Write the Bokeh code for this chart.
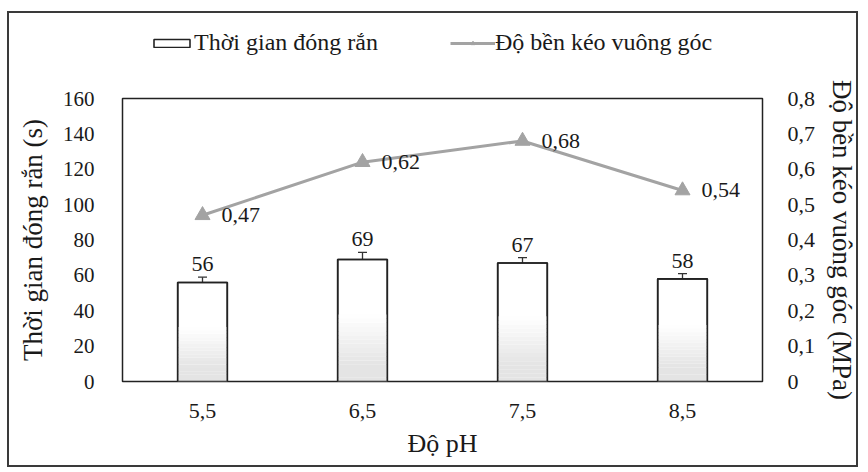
from bokeh.plotting import figure
from bokeh.layouts import column
from bokeh.models import (ColumnDataSource, Range1d, LinearAxis, FixedTicker,
                          CustomJSTickFormatter, Whisker, TeeHead, Legend,
                          LegendItem, FactorRange)
from bokeh.embed import file_html
from bokeh.resources import INLINE
from bokeh.core.properties import value

# ---- data ----
ph_labels = ["5,5", "6,5", "7,5", "8,5"]
setting_time = [56, 69, 67, 58]
setting_err = [3, 4, 3, 3]
tensile = [0.47, 0.62, 0.68, 0.54]
tensile_labels = ["0,47", "0,62", "0,68", "0,54"]
left_ticks = [0, 20, 40, 60, 80, 100, 120, 140, 160]
right_ticks = [0, 0.1, 0.2, 0.3, 0.4, 0.5, 0.6, 0.7, 0.8]
series_names = ["Thời gian đóng rắn", "Độ bền kéo vuông góc"]

FONT = "Liberation Serif"
TXT = "#1a1a1a"
GRAY = "#a3a3a3"
EDGE = "#222222"
FRAME = "2px solid #3a3a3a"

src = ColumnDataSource(dict(
    x=ph_labels,
    top=setting_time,
    upper=[v + e for v, e in zip(setting_time, setting_err)],
    lower=[v - e for v, e in zip(setting_time, setting_err)],
    label=[str(v) for v in setting_time],
    tensile=tensile,
    tlabel=tensile_labels,
))

# ---------- legend strip (top part of the bordered box) ----------
# its y range lies far above every value, so the series only feed the legend keys
lf = figure(width=851, height=50, x_range=FactorRange(factors=ph_labels),
            y_range=Range1d(1000, 1001), output_backend="svg",
            toolbar_location=None, min_border=0,
            x_axis_location=None, y_axis_location=None)
lf.outline_line_color = None
lf.grid.visible = False
lf.background_fill_color = "white"
lf.border_fill_color = "white"
lf.margin = (11, 0, 0, 7)
lf.styles = {"border-top": FRAME, "border-left": FRAME, "border-right": FRAME}

lg_bar = lf.vbar(x="x", top="top", width=0.3, source=src, fill_color="white",
                 line_color=EDGE, line_width=1.6)
lg_line = lf.line(x="x", y="tensile", source=src, line_color=GRAY, line_width=3)
lg_pt = lf.scatter(x="x", y="tensile", source=src, marker="triangle", size=11,
                   fill_color=GRAY, line_color=GRAY)
legend = Legend(items=[
    LegendItem(label=series_names[0], renderers=[lg_bar]),
    LegendItem(label=series_names[1], renderers=[lg_line, lg_pt]),
], location=(27, 7), orientation="horizontal", border_line_color=None,
   background_fill_alpha=0, label_text_font=FONT, label_text_font_size="24px",
   label_text_color=TXT, glyph_width=45, glyph_height=10, spacing=72,
   label_standoff=0, padding=4, margin=0)
lf.add_layout(legend)

# ---------- main chart ----------
p = figure(width=851, height=406, x_range=FactorRange(factors=ph_labels),
           y_range=Range1d(0, 160), output_backend="svg", toolbar_location=None,
           min_border_left=113, min_border_right=87, min_border_top=37,
           min_border_bottom=86)
p.extra_y_ranges = {"right": Range1d(0, 0.8)}
p.xgrid.visible = False
p.ygrid.visible = False
p.outline_line_color = EDGE
p.outline_line_width = 1.5
p.background_fill_color = "white"
p.border_fill_color = "white"
p.margin = (0, 0, 0, 7)
p.styles = {"border-bottom": FRAME, "border-left": FRAME, "border-right": FRAME}

BW = 0.31
p.vbar(x="x", top="top", width=BW, source=src, fill_color="white",
       line_color=EDGE, line_width=1.6)

# soft gradient in the lower part of each bar
steps = 16
gx, gb, gt, gc = [], [], [], []
for lab, v in zip(ph_labels, setting_time):
    for k in range(steps):
        f0 = 0.55 * k / steps
        f1 = 0.55 * (k + 1) / steps
        t = 1 - (k + 0.5) / steps
        g = int(round(255 - (255 - 228) * min(1.0, t * 1.35)))
        gx.append(lab); gb.append(v * f0); gt.append(v * f1)
        gc.append("#%02x%02x%02x" % (g, g, g))
p.vbar(x=gx, bottom=gb, top=gt, width=BW, fill_color=gc, line_color=None)
p.vbar(x="x", top="top", width=BW, source=src, fill_color=None,
       line_color=EDGE, line_width=1.6)

wh = Whisker(base="x", upper="upper", lower="lower", source=src,
             line_color="#333333", line_width=1.3,
             upper_head=TeeHead(size=9, line_color="#333333", line_width=1.3),
             lower_head=TeeHead(size=9, line_color="#333333", line_width=1.3))
p.add_layout(wh)

p.text(x="x", y="upper", text="label", source=src, y_offset=-6,
       text_align="center", text_baseline="bottom", text_color=TXT,
       text_font=value(FONT), text_font_size="22px")

p.line(x="x", y="tensile", source=src, y_range_name="right",
       line_color=GRAY, line_width=3)
p.scatter(x="x", y="tensile", source=src, y_range_name="right",
          marker="triangle", size=15, fill_color=GRAY, line_color=GRAY)
p.text(x="x", y="tensile", text="tlabel", source=src, y_range_name="right",
       x_offset=19, text_align="left", text_baseline="middle", text_color=TXT,
       text_font=value(FONT), text_font_size="22px")

for ax in [p.left[0], p.below[0]]:
    ax.axis_line_color = None
    ax.major_tick_line_color = None
    ax.minor_tick_line_color = None
    ax.major_label_text_font = FONT
    ax.major_label_text_color = TXT
    ax.axis_label_text_font = FONT
    ax.axis_label_text_font_style = "normal"
    ax.axis_label_text_color = TXT

yl = p.left[0]
yl.ticker = FixedTicker(ticks=left_ticks)
yl.major_label_text_font_size = "21px"
yl.major_label_standoff = 22
yl.axis_label = "Thời gian đóng rắn (s)"
yl.axis_label_text_font_size = "27px"
yl.axis_label_standoff = 12

xa = p.below[0]
xa.major_label_text_font_size = "22px"
xa.major_label_standoff = 16
xa.axis_label = "Độ pH"
xa.axis_label_text_font_size = "26px"
xa.axis_label_standoff = 8

yr = LinearAxis(y_range_name="right", ticker=FixedTicker(ticks=right_ticks),
                formatter=CustomJSTickFormatter(
                    code="return tick == 0 ? '0' : tick.toFixed(1).replace('.', ',');"),
                axis_label="Độ bền kéo vuông góc (MPa)")
yr.axis_line_color = None
yr.major_tick_line_color = None
yr.minor_tick_line_color = None
yr.major_label_text_font = FONT
yr.major_label_text_color = TXT
yr.major_label_text_font_size = "22px"
yr.major_label_standoff = 19
yr.axis_label_text_font = FONT
yr.axis_label_text_font_style = "normal"
yr.axis_label_text_color = TXT
yr.axis_label_text_font_size = "27px"
yr.axis_label_standoff = 9
p.add_layout(yr, "right")

layout = column(lf, p, spacing=0)

open("out.html", "w").write(file_html(layout, INLINE))
